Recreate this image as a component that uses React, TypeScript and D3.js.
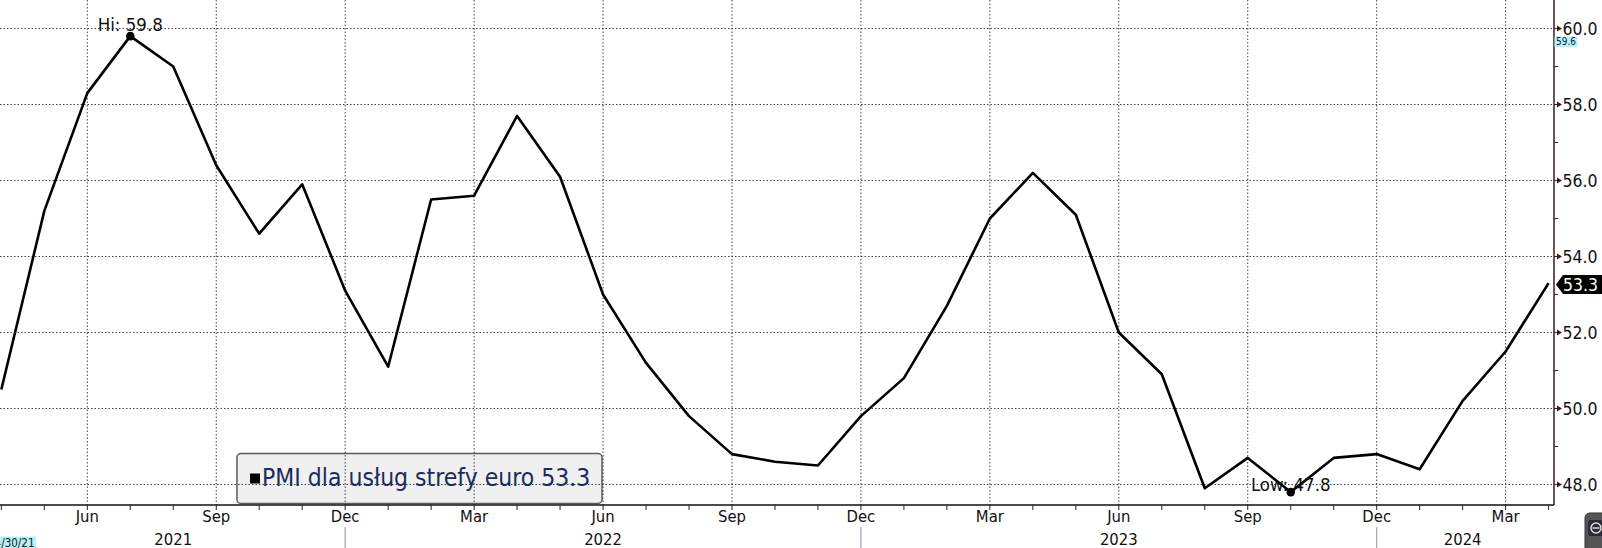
import React from "react";
import * as d3 from "d3";

const monthLabels = [
  "Apr", "May", "Jun", "Jul", "Aug", "Sep", "Oct", "Nov", "Dec",
  "Jan", "Feb", "Mar", "Apr", "May", "Jun", "Jul", "Aug", "Sep", "Oct", "Nov", "Dec",
  "Jan", "Feb", "Mar", "Apr", "May", "Jun", "Jul", "Aug", "Sep", "Oct", "Nov", "Dec",
  "Jan", "Feb", "Mar", "Apr",
];
const monthYears = [
  2021, 2021, 2021, 2021, 2021, 2021, 2021, 2021, 2021,
  2022, 2022, 2022, 2022, 2022, 2022, 2022, 2022, 2022, 2022, 2022, 2022,
  2023, 2023, 2023, 2023, 2023, 2023, 2023, 2023, 2023, 2023, 2023, 2023,
  2024, 2024, 2024, 2024,
];
const pmiValues = [
  50.5, 55.2, 58.3, 59.8, 59.0, 56.4, 54.6, 55.9, 53.1,
  51.1, 55.5, 55.6, 57.7, 56.1, 53.0, 51.2, 49.8, 48.8, 48.6, 48.5, 49.8,
  50.8, 52.7, 55.0, 56.2, 55.1, 52.0, 50.9, 47.9, 48.7, 47.8, 48.7, 48.8,
  48.4, 50.2, 51.5, 53.3,
];
const quarterMonths = ["Mar", "Jun", "Sep", "Dec"];
const yTicks = [48, 50, 52, 54, 56, 58, 60];
const yMinorTicks = [49, 51, 53, 55, 57, 59];
const years = [2021, 2022, 2023, 2024];
const seriesName = "PMI dla usług strefy euro";
const startDateLabel = "4/30/21";
const otherLastValue = 59.6;

const W = 1602;
const H = 548;
const AXIS_X = 1554;
const AXIS_Y = 505;
const FONT = "'DejaVu Sans Condensed', 'DejaVu Sans', sans-serif";

export default function App() {
  const x = d3.scaleLinear().domain([0, pmiValues.length - 1]).range([1.34, 1548.6]);
  const y = d3.scaleLinear().domain([48, 60]).range([484.5, 28.5]);

  const line = d3
    .line<number>()
    .x((_, i) => x(i))
    .y((d) => y(d));

  const idx = d3.range(pmiValues.length);
  const quarterIdx = idx.filter((i) => quarterMonths.includes(monthLabels[i]));
  const yearBoundaries = idx.filter((i) => monthLabels[i] === "Dec");

  const hiVal = d3.max(pmiValues)!;
  const loVal = d3.min(pmiValues)!;
  const hiI = pmiValues.indexOf(hiVal);
  const loI = pmiValues.indexOf(loVal);
  const last = pmiValues[pmiValues.length - 1];
  const lastY = y(last);

  const yearCenters = years.map((yr) => {
    const ids = idx.filter((i) => monthYears[i] === yr);
    const start = yr === years[0] ? ids[0] : ids[0] - 1;
    const end = ids[ids.length - 1];
    return { yr, cx: x((start + end) / 2) };
  });

  const gridColor = "#2b2b45";
  const axisColor = "#3a1c1c";

  return (
    <div style={{ position: "absolute", left: 0, top: 0, width: W, height: H, overflow: "hidden", background: "#fff" }}>
      <svg width={W} height={H} style={{ display: "block", fontFamily: FONT }}>
        <rect x={0} y={0} width={W} height={H} fill="#fff" />
        {/* legend box (behind grid) */}
        <rect x={237} y={453.5} width={365} height={50} rx={4} fill="#f0f0f0" stroke="#5a5a5a" strokeWidth={1.5} />
        {/* horizontal grid */}
        {yTicks.map((t) => (
          <line key={"hg" + t} x1={0} x2={AXIS_X} y1={y(t)} y2={y(t)} stroke={gridColor} strokeWidth={1} strokeDasharray="1.5,2" opacity={0.9} />
        ))}
        {/* vertical grid */}
        {quarterIdx.map((i) => (
          <line key={"vg" + i} x1={x(i)} x2={x(i)} y1={0} y2={AXIS_Y} stroke={gridColor} strokeWidth={1} strokeDasharray="1.5,2" opacity={0.9} />
        ))}
        {/* legend content */}
        <rect x={250} y={473.5} width={10} height={10} fill="#000" />
        <text x={262} y={486} fontSize={24.5} fill="#1c2b5c">
          {seriesName} {last.toFixed(1)}
        </text>
        {/* series line */}
        <path d={line(pmiValues) || ""} fill="none" stroke="#000" strokeWidth={2.6} strokeLinejoin="round" />
        {/* hi / low */}
        <circle cx={x(hiI)} cy={y(hiVal)} r={4.3} fill="#000" />
        <text x={x(hiI)} y={y(hiVal) - 5.5} textAnchor="middle" fontSize={18.5} fill="#111">
          Hi: {hiVal.toFixed(1)}
        </text>
        <circle cx={x(loI)} cy={y(loVal)} r={4.3} fill="#000" />
        <text x={x(loI)} y={y(loVal) - 1.5} textAnchor="middle" fontSize={18.5} fill="#111">
          Low: {loVal.toFixed(1)}
        </text>
        {/* x axis */}
        <line x1={0} x2={AXIS_X} y1={AXIS_Y} y2={AXIS_Y} stroke="#111" strokeWidth={1.5} />
        {idx.map((i) => (
          <line key={"xt" + i} x1={x(i)} x2={x(i)} y1={AXIS_Y} y2={AXIS_Y + 5} stroke="#222" strokeWidth={1} />
        ))}
        {quarterIdx.map((i) => (
          <text key={"xl" + i} x={x(i)} y={522} textAnchor="middle" fontSize={16.5} fill="#111">
            {monthLabels[i]}
          </text>
        ))}
        {yearBoundaries.map((i) => (
          <line key={"yb" + i} x1={x(i)} x2={x(i)} y1={527} y2={H} stroke="#a0a0b4" strokeWidth={1.2} />
        ))}
        {yearCenters.map((d) => (
          <text key={"yr" + d.yr} x={d.cx} y={545} textAnchor="middle" fontSize={16.5} fill="#111">
            {d.yr}
          </text>
        ))}
        {/* start date label */}
        <rect x={-10} y={536.5} width={46} height={12} fill="#b4f0f6" />
        <text x={34.5} y={546.5} textAnchor="end" fontSize={11.5} fill="#222">
          {startDateLabel}
        </text>
        {/* y axis */}
        <line x1={AXIS_X} x2={AXIS_X} y1={0} y2={AXIS_Y} stroke={axisColor} strokeWidth={1.5} />
        {yMinorTicks.map((t) => (
          <line key={"ym" + t} x1={AXIS_X} x2={AXIS_X + 4} y1={y(t)} y2={y(t)} stroke={axisColor} strokeWidth={1} />
        ))}
        {yTicks.map((t) => (
          <g key={"yt" + t}>
            <line x1={AXIS_X} x2={AXIS_X + 4} y1={y(t)} y2={y(t)} stroke={axisColor} strokeWidth={1} />
            <path d={`M${AXIS_X + 3},${y(t) - 3}L${AXIS_X + 8},${y(t)}L${AXIS_X + 3},${y(t) + 3}Z`} fill={axisColor} />
            <text x={1562.5} y={y(t) + 6.5} fontSize={17.5} fill="#111">
              {t.toFixed(1)}
            </text>
          </g>
        ))}
        {/* other series last value */}
        <rect x={AXIS_X + 0.5} y={36.5} width={23} height={10.5} fill="#b4f4f8" />
        <text x={AXIS_X + 12} y={45} textAnchor="middle" fontSize={10} fill="#1a1a3a">
          {otherLastValue.toFixed(1)}
        </text>
        {/* last value tag */}
        <path
          d={`M${AXIS_X + 2},${lastY + 1.5}L${AXIS_X + 9},${lastY - 8}H${W}V${lastY + 11}H${AXIS_X + 9}Z`}
          fill="#000"
        />
        <text x={1598} y={lastY + 8} textAnchor="end" fontSize={17.5} fill="#fff">
          {last.toFixed(1)}
        </text>
        {/* corner button */}
        <rect x={1585} y={513} width={24} height={40} rx={5} fill="#555" stroke="#333" strokeWidth={1} />
        <rect x={1588} y={520} width={16} height={16} rx={3} fill="#2a2a38" />
        <circle cx={1596} cy={528} r={5} fill="none" stroke="#ddd" strokeWidth={1.5} />
        <line x1={1592.5} x2={1599.5} y1={528} y2={528} stroke="#ddd" strokeWidth={1.5} />
      </svg>
    </div>
  );
}
